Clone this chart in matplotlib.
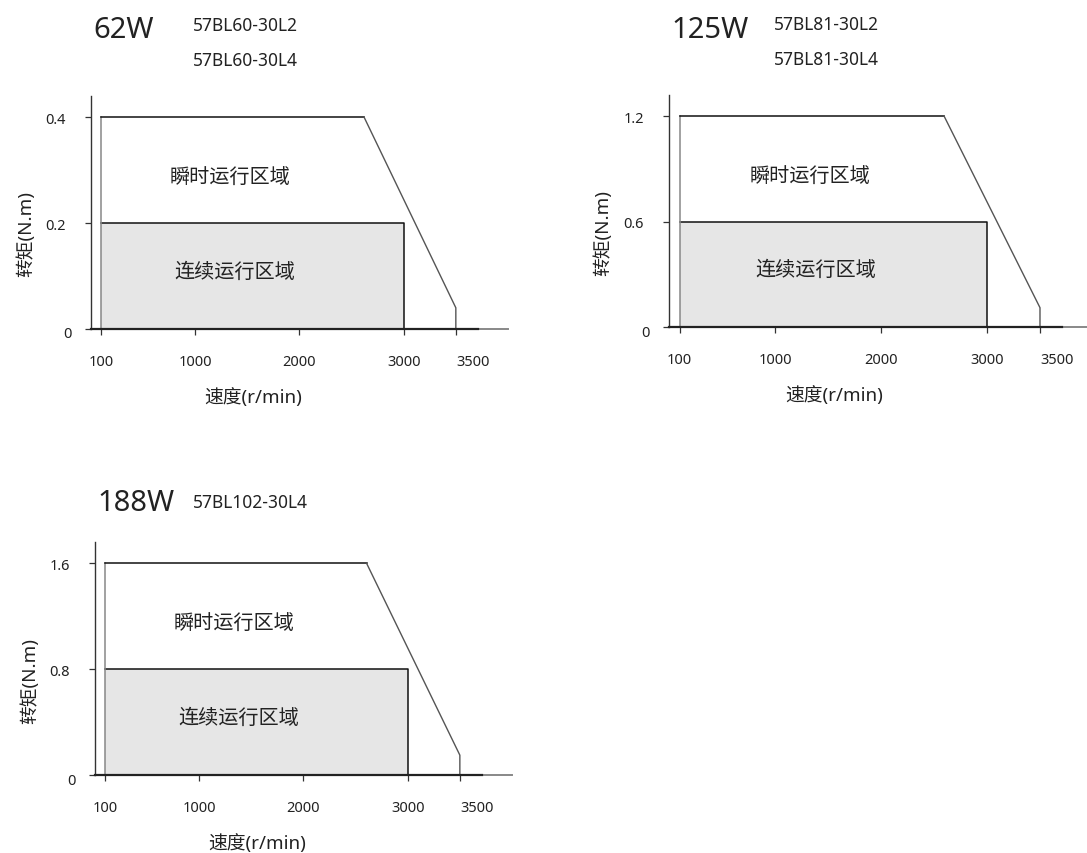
import matplotlib
matplotlib.use("Agg")
import matplotlib.pyplot as plt
from matplotlib.transforms import ScaledTranslation

plt.rcParams['font.family'] = ['Noto Sans', 'Noto Sans CJK SC', 'DejaVu Sans']

# Motor data: power, models, torque levels (N.m) and speed points (r/min)
powers = ["62W", "125W", "188W"]
models = [["57BL60-30L2", "57BL60-30L4"],
          ["57BL81-30L2", "57BL81-30L4"],
          ["57BL102-30L4"]]
peak_torque = [0.4, 1.2, 1.6]
rated_torque = [0.2, 0.6, 0.8]
end_torque = [0.04, 0.11, 0.15]
corner_speed = [2620, 2595, 2605]
min_speed = 100
rated_speed = 3000
max_speed = 3500
line_end = 3710
x_ticks = [100, 1000, 2000, 3000, 3500]
x_ticklabels = ["100", "1000", "2000", "3000", "3500"]

# axes boxes in figure fraction
boxes = [[0.0837, 0.6136, 0.3836, 0.2728],
         [0.6155, 0.6159, 0.3900, 0.2717],
         [0.0874, 0.0913, 0.3836, 0.2728]]
title_y = [1.285, 1.282, 1.168]
model_x = [0.245, 0.248, 0.235]
model_y = [[1.305, 1.155], [1.305, 1.155], [1.172]]


def draw_panel(fig, i):
    ax = fig.add_axes(boxes[i])
    peak = peak_torque[i]
    rated = rated_torque[i]

    # continuous zone
    ax.fill_between([min_speed, rated_speed], 0, rated, color="#e6e6e6", lw=0, zorder=1)
    ax.plot([min_speed, rated_speed, rated_speed], [rated, rated, 0], color="#111111", lw=1.1, zorder=3)

    # peak zone outline
    ax.plot([min_speed, min_speed], [0, peak], color="#888888", lw=1.1, zorder=3)
    ax.plot([min_speed, corner_speed[i]], [peak, peak], color="#111111", lw=1.1, zorder=3)
    ax.plot([corner_speed[i], max_speed, max_speed], [peak, end_torque[i], 0],
            color="#555555", lw=1.0, zorder=3)
    ax.plot([0, line_end], [0, 0], color="#222222", lw=1.6, zorder=4, clip_on=False)

    ax.set_xlim(0, 4000)
    ax.set_ylim(0, peak * 1.1)
    for side in ["top", "right"]:
        ax.spines[side].set_visible(False)
    ax.spines["left"].set_color("#333333")
    ax.spines["bottom"].set_color("#888888")
    ax.spines["left"].set_linewidth(1.0)
    ax.spines["bottom"].set_linewidth(1.4)

    ax.set_xticks(x_ticks)
    ax.set_xticklabels(x_ticklabels)
    ax.set_yticks([0, rated, peak])
    ax.set_yticklabels(["0", f"{rated:g}", f"{peak:g}"])
    ax.tick_params(axis="x", length=4, width=0.9, color="#333333", pad=14, labelsize=10.5, labelcolor="#222222")
    ax.tick_params(axis="y", length=4, width=0.9, color="#333333", pad=14, labelsize=10.5, labelcolor="#222222")
    ax.get_xticklabels()[-1].set_transform(
        ax.get_xticklabels()[-1].get_transform() + ScaledTranslation(0.17, 0, fig.dpi_scale_trans))
    ax.get_yticklabels()[0].set_transform(
        ax.get_yticklabels()[0].get_transform() + ScaledTranslation(0.06, -0.03, fig.dpi_scale_trans))

    ax.text(0.333, 0.648, "瞬时运行区域", transform=ax.transAxes, ha="center", va="center",
            fontsize=14.5, color="#222222")
    ax.text(0.345, 0.245, "连续运行区域", transform=ax.transAxes, ha="center", va="center",
            fontsize=14.5, color="#222222")

    ax.text(-0.155, 0.41, "转矩(N.m)", transform=ax.transAxes, rotation=90, ha="center", va="center",
            fontsize=13.5, color="#222222")
    ax.text(0.39, -0.29, "速度(r/min)", transform=ax.transAxes, ha="center", va="center",
            fontsize=13.5, color="#222222")

    ax.text(0.005, title_y[i], powers[i], transform=ax.transAxes, ha="left", va="center",
            fontsize=21, fontweight="light", color="#222222")
    for name, y in zip(models[i], model_y[i]):
        ax.text(model_x[i], y, name, transform=ax.transAxes, ha="left", va="center",
                fontsize=12.5, color="#222222")
    return ax


fig = plt.figure(figsize=(10.87, 8.54), dpi=100)
for i in range(len(powers)):
    draw_panel(fig, i)

fig.savefig("out.png", dpi=100, facecolor="white")
